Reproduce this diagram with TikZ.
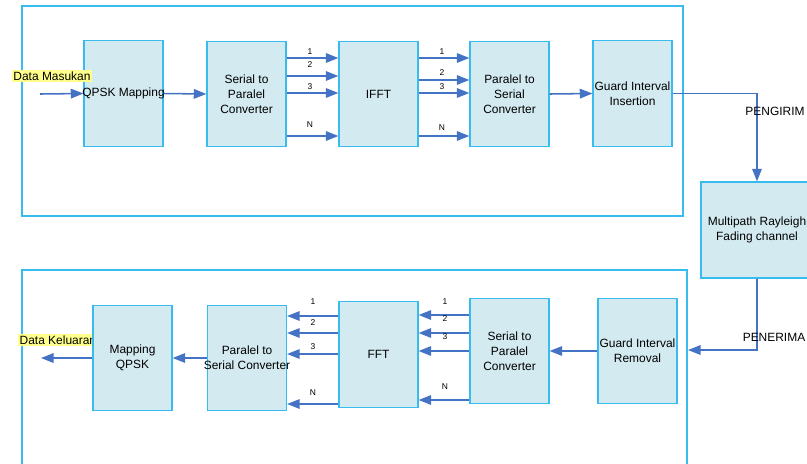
\documentclass[tikz,border=0pt]{standalone}
\usepackage{fontspec}
\setmainfont{Liberation Sans}
\usetikzlibrary{arrows.meta}

\definecolor{garis}{HTML}{38BBEE}
\definecolor{isi}{HTML}{D3EAF1}
\definecolor{panahbiru}{HTML}{4472C4}
\definecolor{stabilo}{HTML}{FFFF8C}

\begin{document}
\begin{tikzpicture}[x=0.025cm,y=-0.025cm,
  font=\fontsize{8.5}{10.6}\selectfont,
  blok/.style={draw=garis,fill=isi,line width=0.8pt,minimum width=1.975cm,minimum height=2.64cm,align=center,inner sep=0pt},
  bingkai/.style={draw=garis,line width=0.8pt},
  panah/.style={draw=panahbiru,line width=1.1pt,-{Triangle[length=9pt,width=6.8pt]}},
  nomor/.style={font=\fontsize{6}{7}\selectfont,inner sep=0pt},
  sorot/.style={fill=stabilo,inner sep=1pt}]
\useasboundingbox (0,0) rectangle (807,463);
\clip (0,0) rectangle (807,463);

% pengirim dan penerima
\draw[bingkai] (22,6) rectangle (683,216);
\draw[bingkai] (22,470) |- (687,270) -- (687,470);

\node[sorot,anchor=west] (keluaran) at (18,340) {Data Keluaran};

% blok pengirim
\node[blok] (qpsk) at (123.5,93.5) {\makebox[0pt]{QPSK Mapping}};
\node[blok] (sp) at (246.5,94) {Serial to\\Paralel\\Converter};
\node[blok] (ifft) at (378.5,94) {IFFT};
\node[blok] (ps) at (509.5,94) {Paralel to\\Serial\\Converter};
\node[blok] (gi) at (632.5,93.5) {Guard Interval\\Insertion};

% kanal
\node[blok,minimum width=2.8cm,minimum height=2.4cm] (kanal) at (757,230) {Multipath Rayleigh\\Fading channel};

% blok penerima
\node[blok] (gir) at (637.5,351) {Guard Interval\\Removal};
\node[blok] (sp2) at (509.5,351) {Serial to\\Paralel\\Converter};
\node[blok] (fft) at (378.5,354.5) {FFT};
\node[blok] (ps2) at (247,358) {Paralel to\\\makebox[0pt]{Serial Converter}};
\node[blok] (mq) at (132.5,358) {Mapping\\QPSK};

\coordinate (masuk) at (40,94);
\coordinate (keluar) at (41,358);
\coordinate (terima) at (688,350);

\draw[panah] (masuk) -- (qpsk.west);
\draw[panah] (qpsk.east) -- (sp.west);
\foreach \y/\n/\ly in {58/1/51.7, 76/2/65, 93/3/86.7, 136/N/125} {
  \draw[panah] (sp.east |- 0,\y) -- (ifft.west |- 0,\y);
  \node[nomor] (a\n) at (310,\ly) {\n};
}
\foreach \y/\n/\ly in {58/1/51.7, 80/2/72.7, 93/3/86.7, 136/N/128} {
  \draw[panah] (ifft.east |- 0,\y) -- (ps.west |- 0,\y);
  \node[nomor] (b\n) at (442,\ly) {\n};
}
\draw[panah] (ps.east) -- (gi.west);
\draw[panah] (gi.east) -| (kanal.north);
\node (kirim) at (775,111) {PENGIRIM};

\draw[panah] (kanal.south) |- (terima);
\node (nerima) at (774,337) {PENERIMA};
\draw[panah] (gir.west) -- (sp2.east);
\foreach \y/\n/\ly in {315/1/302, 333/2/319, 351/3/337, 400/N/387} {
  \draw[panah] (sp2.west |- 0,\y) -- (fft.east |- 0,\y);
  \node[nomor] (c\n) at (445,\ly) {\n};
}
\foreach \y/\n/\ly in {316/1/302, 333/2/323, 354/3/347, 404/N/393} {
  \draw[panah] (fft.west |- 0,\y) -- (ps2.east |- 0,\y);
  \node[nomor] (d\n) at (313,\ly) {\n};
}
\draw[panah] (ps2.west) -- (mq.east);
\draw[panah] (mq.west) -- (keluar);

\node[sorot] (masukan) at (52,76) {Data Masukan};
\end{tikzpicture}
\end{document}
